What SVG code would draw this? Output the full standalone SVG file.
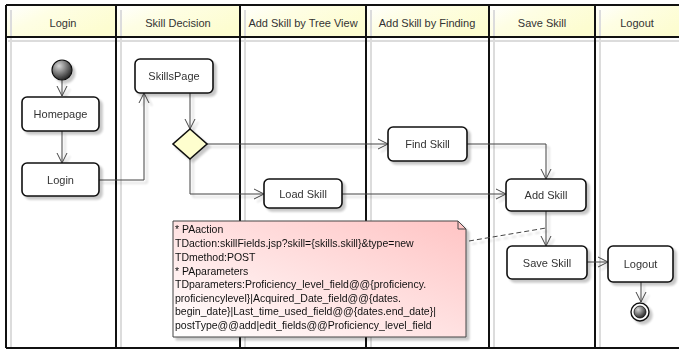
<svg xmlns="http://www.w3.org/2000/svg" width="679" height="350" viewBox="0 0 679 350">
  <defs>
    <linearGradient id="hdr" x1="0" y1="0" x2="1" y2="0.6">
      <stop offset="0" stop-color="#FFFFFF"/>
      <stop offset="0.4" stop-color="#FEFEE4"/>
      <stop offset="1" stop-color="#FDFDD0"/>
    </linearGradient>
    <linearGradient id="noteFill" x1="0" y1="1" x2="1" y2="0">
      <stop offset="0" stop-color="#FFFFFF"/>
      <stop offset="1" stop-color="#FFC4C4"/>
    </linearGradient>
    <radialGradient id="ball" cx="0.35" cy="0.3" r="0.75">
      <stop offset="0" stop-color="#D8D8D8"/>
      <stop offset="1" stop-color="#1E1E1E"/>
    </radialGradient>
    <filter id="shadow" x="-20%" y="-20%" width="150%" height="160%">
      <feGaussianBlur in="SourceAlpha" stdDeviation="1.2"/>
      <feOffset dx="3" dy="3" result="off"/>
      <feComponentTransfer><feFuncA type="linear" slope="0.22"/></feComponentTransfer>
      <feMerge><feMergeNode/><feMergeNode in="SourceGraphic"/></feMerge>
    </filter>
    <marker id="arrow" viewBox="0 0 12 12" refX="11" refY="6" markerWidth="12" markerHeight="12" markerUnits="userSpaceOnUse" orient="auto">
      <path d="M1,1 L11,6 L1,11" fill="none" stroke="#444" stroke-width="1"/>
    </marker>
    <style>
      .lane-hdr { fill: url(#hdr); }
      .frame { stroke: #111; stroke-width: 2; fill: none; }
      .lane-shadow { stroke: #DCDCDC; stroke-width: 2; fill: none; }
      .hdr-text { font-family: "Liberation Sans", Arial, sans-serif; font-size: 11px; fill: #333; text-anchor: middle; }
      .box { fill: #FFFFFF; stroke: #111; stroke-width: 1.6; }
      .label { font-family: "Liberation Sans", Arial, sans-serif; font-size: 11px; fill: #333; text-anchor: middle; }
      .edge { fill: none; stroke: #444; stroke-width: 1; marker-end: url(#arrow); }
      .note-link { fill: none; stroke: #444; stroke-width: 1; stroke-dasharray: 5 3; }
      .note { fill: url(#noteFill); stroke: #444; stroke-width: 1; }
      .note-text { font-family: "Liberation Sans", Arial, sans-serif; font-size: 10.5px; fill: #111; }
    </style>
  </defs>

  <rect x="0" y="0" width="679" height="350" fill="#FFFFFF"/>

  <!-- swimlane headers -->
  <g id="lanes">
    <rect class="lane-hdr" x="6" y="5" width="110" height="32"/>
    <rect class="lane-hdr" x="116" y="5" width="124" height="32"/>
    <rect class="lane-hdr" x="240" y="5" width="126" height="32"/>
    <rect class="lane-hdr" x="366" y="5" width="123" height="32"/>
    <rect class="lane-hdr" x="489" y="5" width="106" height="32"/>
    <rect class="lane-hdr" x="595" y="5" width="90" height="32"/>

    <path class="lane-shadow" d="M11,10 V347 M121,10 V347 M245,10 V347 M371,10 V347 M494,10 V347 M600,10 V347 M8,41 H679"/>

    <path class="frame" d="M6,5 H685 M6,37 H685 M6,348 H685 M6,5 V348 M116,5 V348 M240,5 V348 M366,5 V348 M489,5 V348 M595,5 V348"/>

    <text class="hdr-text" x="63" y="27">Login</text>
    <text class="hdr-text" x="178" y="27">Skill Decision</text>
    <text class="hdr-text" x="303" y="27">Add Skill by Tree View</text>
    <text class="hdr-text" x="427" y="27">Add Skill by Finding</text>
    <text class="hdr-text" x="542" y="27">Save Skill</text>
    <text class="hdr-text" x="637" y="27">Logout</text>
  </g>

  <!-- connectors -->
  <g id="connectors" filter="url(#shadow)">
    <path class="edge" d="M62,80 V96"/>
    <path class="edge" d="M62,131 V163"/>
    <path class="edge" d="M99,180 H144 V93"/>
    <path class="edge" d="M190,93 V129"/>
    <path class="edge" d="M207,144 H388"/>
    <path class="edge" d="M190,159 V194 H264"/>
    <path class="edge" d="M467,144 H546 V179"/>
    <path class="edge" d="M342,194 H506"/>
    <path class="edge" d="M546,211 V246"/>
    <path class="edge" d="M587,262 H608"/>
    <path class="edge" d="M641,282 V302"/>
    <path class="note-link" d="M469,241 L546,228"/>
  </g>

  <g id="start" filter="url(#shadow)">
    <circle cx="62" cy="70" r="10" fill="url(#ball)" stroke="#111" stroke-width="1.2"/>
  </g>

  <g id="homepage" filter="url(#shadow)">
    <rect class="box" x="22" y="97" width="77" height="34" rx="5"/>
    <text class="label" x="60.5" y="118">Homepage</text>
  </g>

  <g id="login" filter="url(#shadow)">
    <rect class="box" x="22" y="163" width="77" height="33" rx="5"/>
    <text class="label" x="60.5" y="183.5">Login</text>
  </g>

  <g id="skills-page" filter="url(#shadow)">
    <rect class="box" x="135" y="59" width="78" height="34" rx="5"/>
    <text class="label" x="174" y="80">SkillsPage</text>
  </g>

  <g id="decision" filter="url(#shadow)">
    <path d="M190,129 L207,144 L190,159 L173,144 Z" fill="#FEFECE" stroke="#111" stroke-width="1.6"/>
  </g>

  <g id="find-skill" filter="url(#shadow)">
    <rect class="box" x="388" y="127" width="79" height="34" rx="5"/>
    <text class="label" x="427.5" y="148">Find Skill</text>
  </g>

  <g id="load-skill" filter="url(#shadow)">
    <rect class="box" x="264" y="179" width="78" height="29" rx="5"/>
    <text class="label" x="303" y="197.5">Load Skill</text>
  </g>

  <g id="add-skill" filter="url(#shadow)">
    <rect class="box" x="506" y="179" width="80" height="32" rx="5"/>
    <text class="label" x="546" y="199">Add Skill</text>
  </g>

  <g id="save-skill" filter="url(#shadow)">
    <rect class="box" x="507" y="246" width="80" height="33" rx="5"/>
    <text class="label" x="547" y="266.5">Save Skill</text>
  </g>

  <g id="logout" filter="url(#shadow)">
    <rect class="box" x="608" y="246" width="65" height="36" rx="5"/>
    <text class="label" x="640.5" y="268">Logout</text>
  </g>

  <g id="end" filter="url(#shadow)">
    <circle cx="640" cy="312" r="9" fill="#FFFFFF" stroke="#111" stroke-width="1.4"/>
    <circle cx="640" cy="312" r="6" fill="url(#ball)" stroke="#111" stroke-width="0.8"/>
  </g>

  <g id="note" filter="url(#shadow)">
    <path class="note" d="M173,221 H458 L466,229 V337 H173 Z"/>
    <path d="M458,221 V229 H466" fill="none" stroke="#444" stroke-width="1"/>
    <text class="note-text" x="175" y="233">* PAaction</text>
    <text class="note-text" x="175" y="247">TDaction:skillFields.jsp?skill={skills.skill}&amp;type=new</text>
    <text class="note-text" x="175" y="261">TDmethod:POST</text>
    <text class="note-text" x="175" y="275">* PAparameters</text>
    <text class="note-text" x="175" y="288">TDparameters:Proficiency_level_field@@{proficiency.</text>
    <text class="note-text" x="175" y="302">proficiencylevel}|Acquired_Date_field@@{dates.</text>
    <text class="note-text" x="175" y="315">begin_date}|Last_time_used_field@@{dates.end_date}|</text>
    <text class="note-text" x="175" y="329">postType@@add|edit_fields@@Proficiency_level_field</text>
  </g>
</svg>
